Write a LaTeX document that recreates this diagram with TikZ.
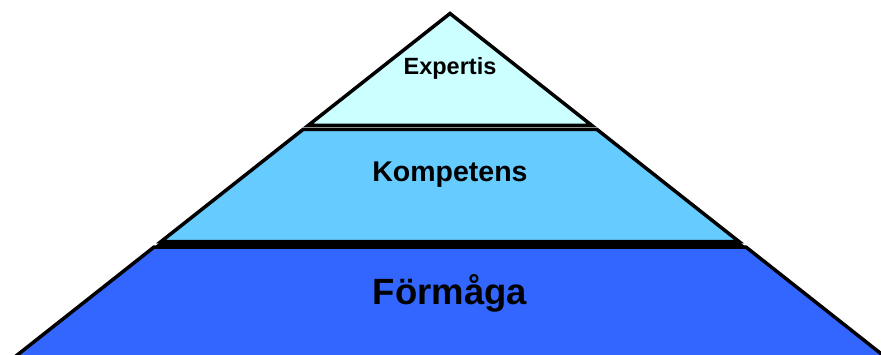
\documentclass[tikz,border=0pt]{standalone}
\usepackage{fontspec}
\setmainfont{Liberation Sans}
\begin{document}
\begin{tikzpicture}[x=1pt,y=-1pt,
  layer/.style={draw=black,line width=3.5pt,line join=miter},
  lbl/.style={font=\bfseries,anchor=base,inner sep=0pt}]
\useasboundingbox (0,0) rectangle (881,355);
\clip (0,0) rectangle (881,355);
% dark seam between the two lower tiers
\fill[black] (160.5,241.75) -- (739.5,241.75) -- (746.2,247.25) -- (153.8,247.25) -- cycle;
% bottom tier
\filldraw[layer,fill={rgb,255:red,51;green,102;blue,255}]
  (153.8,247.25) -- (746.2,247.25) -- (901.7,370) -- (-1.7,370) -- cycle;
% middle tier
\filldraw[layer,fill={rgb,255:red,102;green,204;blue,255}]
  (303.0,129.5) -- (597.0,129.5) -- (739.2,241.75) -- (160.8,241.75) -- cycle;
% top tier
\filldraw[layer,fill={rgb,255:red,204;green,255;blue,255}]
  (450,13.5) -- (591.9,125.5) -- (308.1,125.5) -- cycle;
\node[lbl,font=\bfseries\fontsize{23.5}{26}\selectfont] (expertis) at (450,75) {Expertis};
\node[lbl,font=\bfseries\fontsize{28.5}{32}\selectfont] (kompetens) at (450,182) {Kompetens};
\node[lbl,font=\bfseries\fontsize{36.5}{40}\selectfont] (formaga) at (450,305) {Förmåga};
\end{tikzpicture}
\end{document}
